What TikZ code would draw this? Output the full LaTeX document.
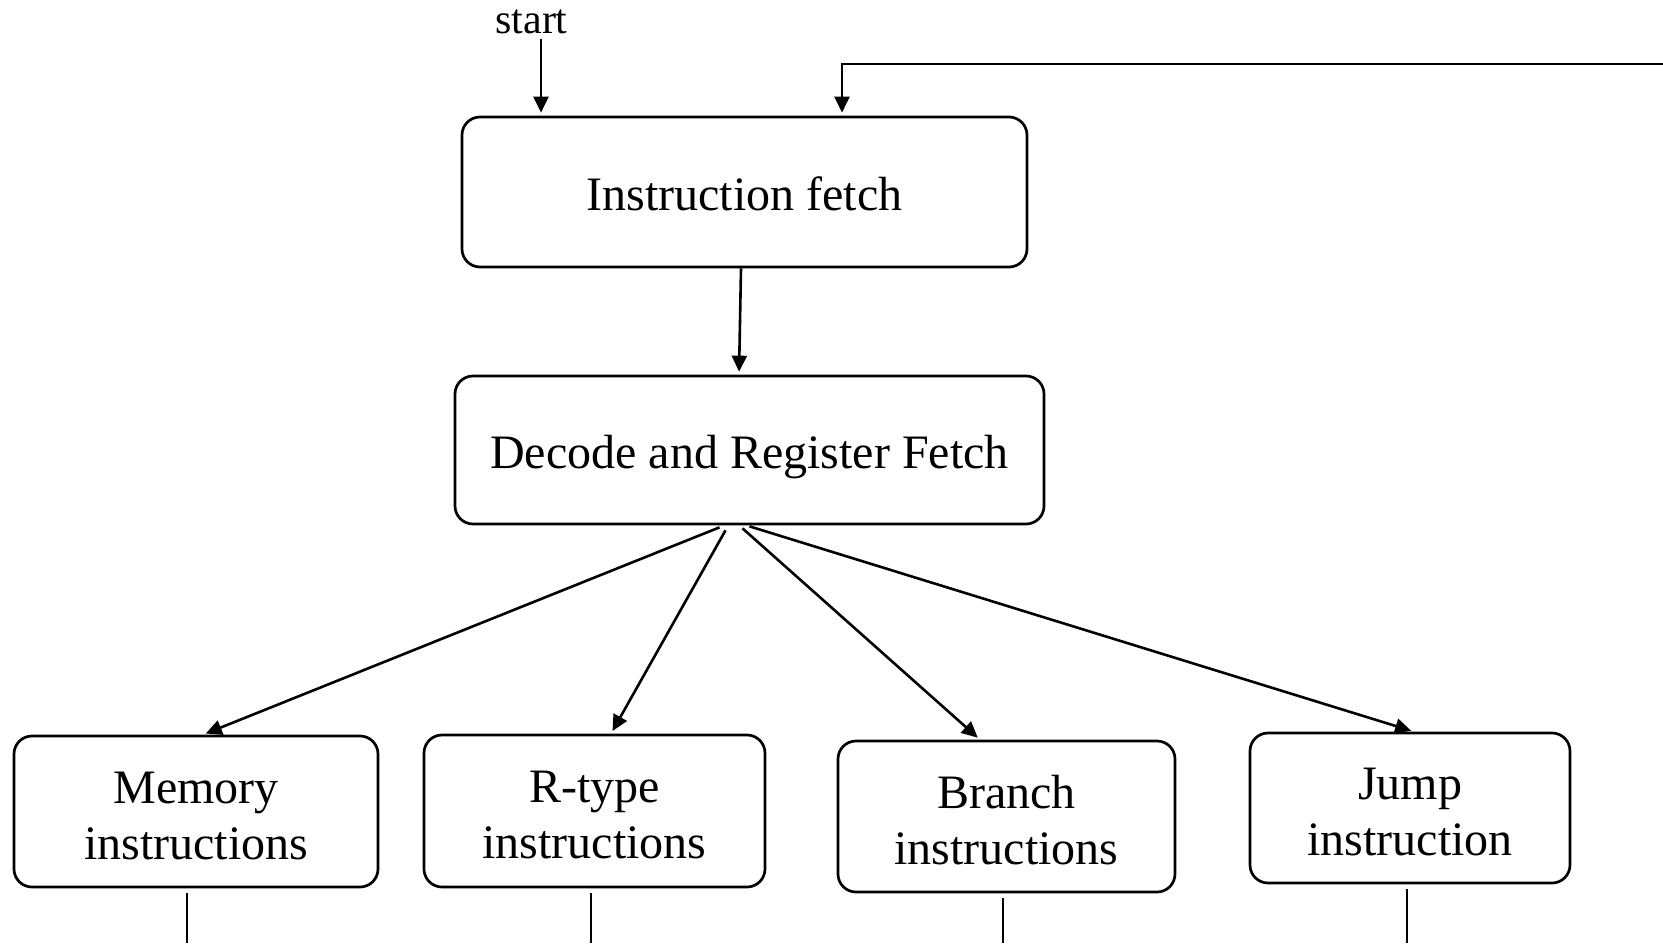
\documentclass[tikz,border=0pt]{standalone}
\usepackage{fontspec}
\setmainfont{Liberation Serif}
\usetikzlibrary{arrows.meta}

\tikzset{
  stage/.style={draw, line width=2.7pt, rounded corners=18pt, align=center,
    inner sep=0pt, font=\fontsize{48}{56}\selectfont},
  oneline/.style={text height=37.5pt, text depth=0pt},
  twoline/.style={text height=95pt, text depth=0pt},
  flow/.style={line width=2.6pt, -{Triangle[length=16pt,width=15pt]}, shorten >=3pt},
  tail/.style={line width=2pt},
}

\begin{document}
\begin{tikzpicture}[x=1pt, y=-1pt]
  \useasboundingbox (0,0) rectangle (1663,943);

  % main stages
  \node[stage, oneline, minimum width=565pt, minimum height=150pt] (fetch) at (744.5,192) {Instruction fetch};
  \node[stage, oneline, minimum width=589pt, minimum height=148pt] (decode) at (749.5,450) {Decode and Register Fetch};

  % instruction classes
  \node[stage, twoline, minimum width=364pt, minimum height=151pt] (mem) at (196,811.5) {Memory\\instructions};
  \node[stage, twoline, minimum width=341pt, minimum height=152pt] (rtype) at (594.5,811) {R-type\\instructions};
  \node[stage, twoline, minimum width=337pt, minimum height=151pt] (branch) at (1006.5,816.5) {Branch\\instructions};
  \node[stage, twoline, minimum width=320pt, minimum height=150pt] (jump) at (1410,808) {Jump\\instruction};

  % entry point
  \node[anchor=base, inner sep=0pt, font=\fontsize{42}{48}\selectfont] (start) at (531.5,33) {start};
  \coordinate (s0) at (541,39);
  \draw[flow] (s0) -- (s0 |- fetch.north);

  % loop back into the fetch stage
  \coordinate (back) at (1663,64);
  \draw[flow] (back) -| ([xshift=97.5pt]fetch.north);

  % fetch to decode
  \draw[flow] ([xshift=-3.5pt]fetch.south) -- ([xshift=-10.5pt]decode.north);

  % decode fans out to the instruction classes
  \draw[flow] ([xshift=-30pt,yshift=-2pt]decode.south) -- ([xshift=7pt]mem.north);
  \draw[flow] ([xshift=-24pt,yshift=-5pt]decode.south) -- ([xshift=16.5pt]rtype.north);
  \draw[flow] ([xshift=-7pt,yshift=-3pt]decode.south) -- ([xshift=-26.5pt]branch.north);
  \draw[flow] ([xshift=0pt,yshift=-1pt]decode.south) -- ([xshift=4pt]jump.north);

  % continuations below each class
  \coordinate (m1) at (187,943);
  \coordinate (r1) at (591,943);
  \coordinate (b1) at (1003,943);
  \coordinate (j1) at (1407,943);
  \draw[tail] ([yshift=-5pt]mem.south -| m1) -- (m1);
  \draw[tail] ([yshift=-5pt]rtype.south -| r1) -- (r1);
  \draw[tail] ([yshift=-5pt]branch.south -| b1) -- (b1);
  \draw[tail] ([yshift=-5pt]jump.south -| j1) -- (j1);
\end{tikzpicture}
\end{document}
